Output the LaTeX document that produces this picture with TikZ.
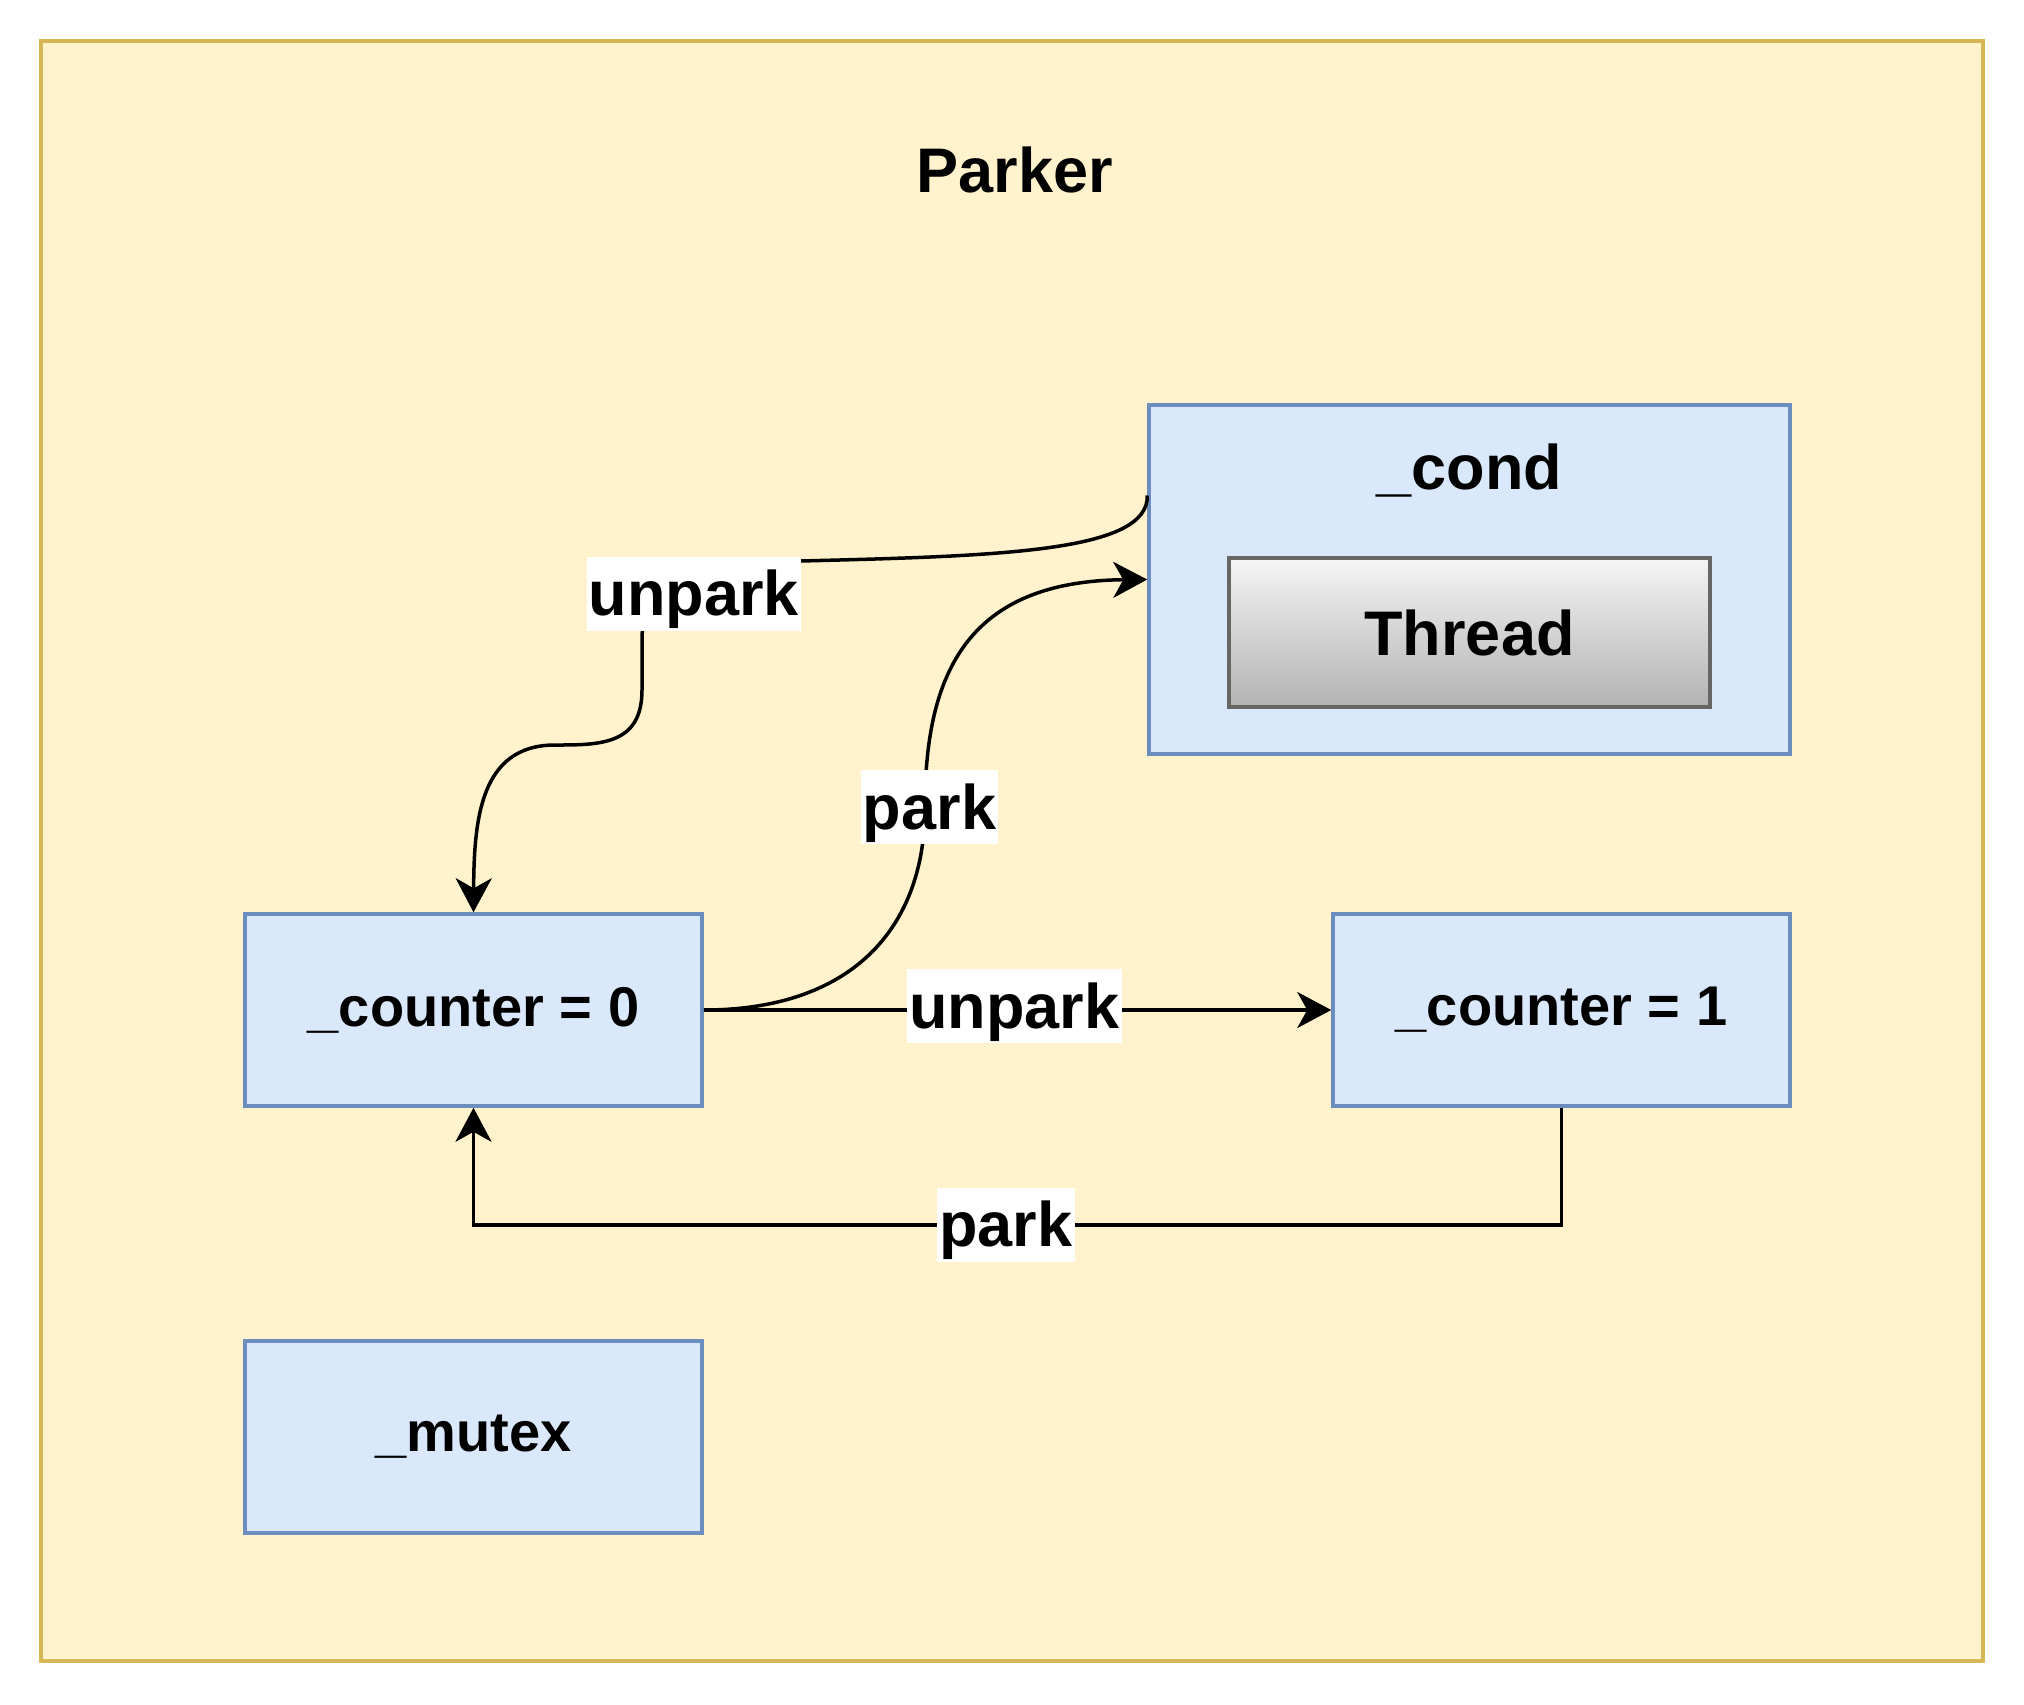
\documentclass[tikz,border=0pt]{standalone}
\usepackage{fontspec}
\setmainfont{Liberation Sans}
\usetikzlibrary{arrows.meta}
\definecolor{outerfill}{HTML}{FFF2CC}
\definecolor{outerdraw}{HTML}{D6B656}
\definecolor{boxfill}{HTML}{DAE8FC}
\definecolor{boxdraw}{HTML}{6C8EBF}
\definecolor{thrtop}{HTML}{F5F5F5}
\definecolor{thrbot}{HTML}{B3B3B3}
\definecolor{thrdraw}{HTML}{666666}
\begin{document}
\begin{tikzpicture}[x=0.5pt,y=-0.5pt,
  bigtxt/.style={font=\fontsize{31.5}{36}\selectfont\bfseries},
  midtxt/.style={font=\fontsize{28}{33}\selectfont\bfseries},
  bluebox/.style={draw=boxdraw,fill=boxfill,line width=1.75pt,inner sep=0pt},
  cbox/.style={bluebox,midtxt,minimum width=228.5pt,minimum height=96pt},
  edgelbl/.style={bigtxt,fill=white,inner xsep=1pt,inner ysep=0pt,text height=29.5pt,text depth=7.5pt},
  conn/.style={line width=1.75pt,-{Stealth[length=17pt,width=18pt,inset=5pt]}}]
\useasboundingbox (0,0) rectangle (2024,1704);
\node[draw=outerdraw,fill=outerfill,line width=2pt,minimum width=971pt,minimum height=810pt,inner sep=0pt] (outer) at (1012,851) {};
\node[bigtxt] (title) at (1015,170) {Parker};
\node[bluebox,minimum width=320.5pt,minimum height=174.5pt] (cond) at (1469.5,579.5) {};
\node[bigtxt] (condtxt) at (1469.5,471) {\_cond};
\node[draw=thrdraw,line width=1.75pt,top color=thrtop,bottom color=thrbot,bigtxt,minimum width=240.5pt,minimum height=74.5pt,inner sep=0pt] (thread) at (1469.5,632.5) {Thread};
\node[cbox] (c0) at (473.5,1010) {\_counter = 0};
\node[cbox] (c1) at (1561.5,1010) {\_counter = 1};
\node[cbox] (mutex) at (473.5,1437) {\_mutex};
% edges
\draw[conn] ([yshift=42pt]cond.west) .. controls (1149,552) and (1000,556) .. (800,561)
  .. controls (700,563) and (642,570) .. (642,640)
  -- (642,690) .. controls (642,745) and (600,745) .. (555,745)
  .. controls (480,745) and (474,820) .. (c0.north);
\draw[conn] (c0.east) .. controls (850,1010) and (925,930) .. (925,807)
  .. controls (925,670) and (970,581) .. (cond.west);
\draw[conn] (c0.east) -- (c1.west);
\draw[conn] (c1.south) -- (1561.5,1225) -| (c0.south);
% labels
\node[edgelbl] (l1) at (694,593.5) {unpark};
\node[edgelbl] (l2) at (929.5,807) {park};
\node[edgelbl] (l3) at (1014.5,1006) {unpark};
\node[edgelbl] (l4) at (1006,1224.5) {park};
\end{tikzpicture}
\end{document}
